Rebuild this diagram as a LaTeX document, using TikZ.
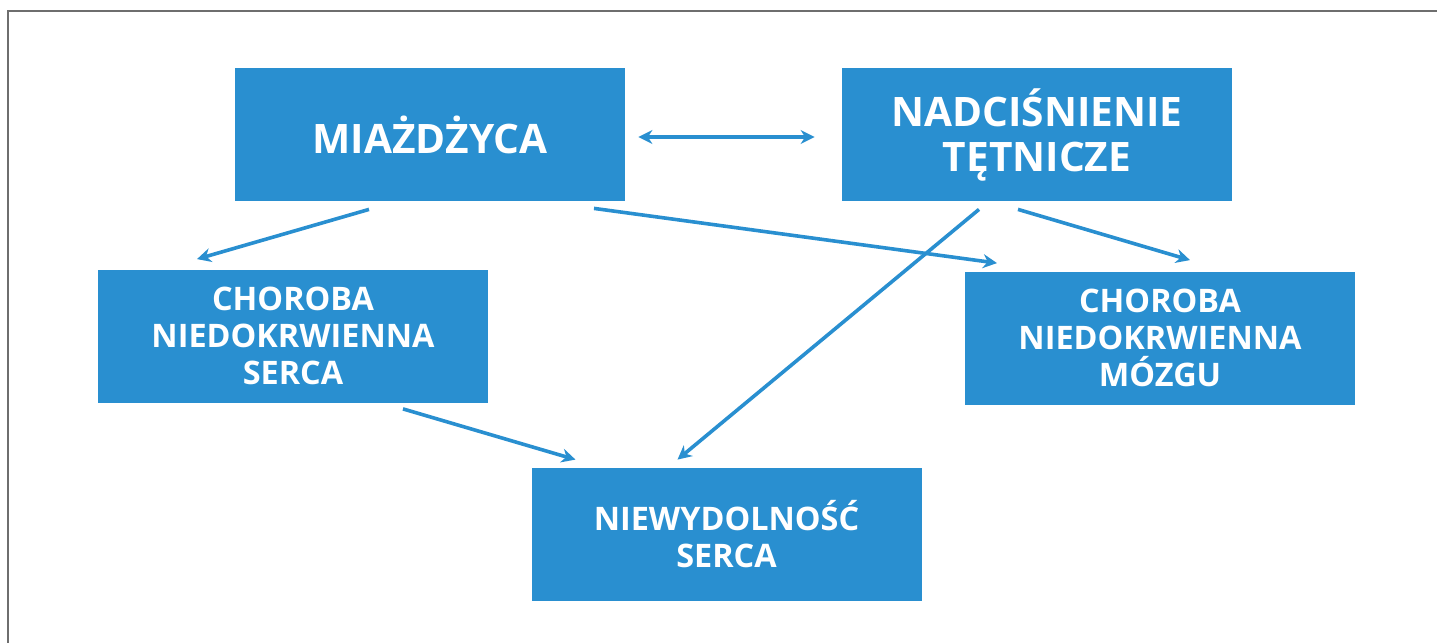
\documentclass[tikz,border=0pt]{standalone}
\usepackage{fontspec}
\setmainfont{Open Sans}
\usetikzlibrary{arrows.meta,calc}
\definecolor{diagblue}{RGB}{41,143,208}
\definecolor{framegray}{RGB}{110,110,110}
\tikzset{
  bigbox/.style={fill=diagblue, text=white, align=center, font=\bfseries\fontsize{20.3}{22.5}\selectfont,
    minimum width=195pt, minimum height=66.5pt, inner sep=0pt},
  smallbox/.style={bigbox, font=\bfseries\fontsize{16.2}{18.5}\selectfont},
  diagarrow/.style={-{Stealth[length=7pt,width=7pt]}, line width=1.8pt, draw=diagblue}
}

\begin{document}
\begin{tikzpicture}[x=0.5pt, y=-0.5pt]
    \useasboundingbox (0,0) rectangle (1437,643);
    \draw[framegray, line width=1pt] (8,643) -- (8,10.5) -- (1437,10.5);
    \node[bigbox] (miaz) at (430,134.5) {MIAŻDŻYCA};
    \node[bigbox] (nadc) at (1037,134.5) {NADCIŚNIENIE\\TĘTNICZE};
    \node[smallbox] (serca) at (293,336) {CHOROBA\\NIEDOKRWIENNA\\SERCA};
    \node[smallbox] (mozgu) at (1160,338) {CHOROBA\\NIEDOKRWIENNA\\MÓZGU};
    \node[smallbox] (niew) at (726.5,534.5) {NIEWYDOLNOŚĆ\\SERCA};
    \draw[diagarrow, {Stealth[length=7pt,width=7pt]}-{Stealth[length=7pt,width=7pt]}]
      ($(miaz.east)+(13,2.5)$) -- ($(nadc.west)+(-27,2.5)$);
    \draw[diagarrow] ($(miaz.south)+(-61,8)$) -- ($(serca.north)+(-96,-10)$);
    \draw[diagarrow] ($(miaz.south)+(164,7)$) -- ($(mozgu.north)+(-163,-8)$);
    \draw[diagarrow] ($(nadc.south)+(-19,8)$) -- ($(mozgu.north)+(30,-11)$);
    \draw[diagarrow] ($(nadc.south)+(-58,8)$) -- ($(niew.north)+(-49,-8)$);
    \draw[diagarrow] ($(serca.south)+(110,6)$) -- ($(niew.north)+(-151,-8)$);
  \end{tikzpicture}
\end{document}
